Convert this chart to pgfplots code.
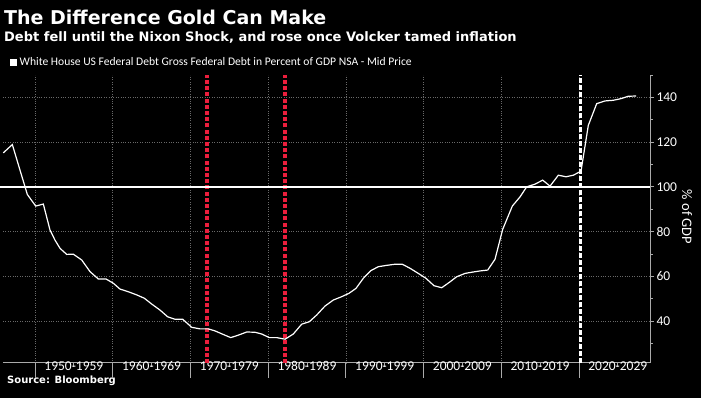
\documentclass[border=0pt]{standalone}
\usepackage{fontspec}
\setmainfont{Carlito}
\newfontfamily\dvs{DejaVu Sans}
\usepackage{pgfplots}
\pgfplotsset{compat=1.18}
\definecolor{nixred}{RGB}{235,30,60}
\definecolor{gridc}{RGB}{105,105,105}
\definecolor{axc}{RGB}{170,170,170}
\begin{document}
\begin{tikzpicture}
\fill[black] (0pt,0pt) rectangle (701pt,398pt);
\useasboundingbox (0pt,0pt) rectangle (701pt,398pt);
\node[anchor=base west, inner sep=0pt, text=white, font=\dvs\bfseries\fontsize{19}{22}\selectfont] at (4pt,373pt) {The Difference Gold Can Make};
\node[anchor=base west, inner sep=0pt, text=white, font=\dvs\bfseries\fontsize{13}{15}\selectfont] at (4pt,356.5pt) {Debt fell until the Nixon Shock, and rose once Volcker tamed inflation};
\fill[white] (10pt,332pt) rectangle (17pt,339pt);
\node[anchor=base west, inner sep=0pt, text=white, font=\fontsize{11.6}{13}\selectfont] at (19.5pt,332pt) {White House US Federal Debt Gross Federal Debt in Percent of GDP NSA - Mid Price};
\node[anchor=base west, inner sep=0pt, text=white, font=\dvs\bfseries\fontsize{10}{12}\selectfont] at (7pt,14pt) {Source: Bloomberg};
\node[rotate=-90, inner sep=0pt, text=white, font=\fontsize{14.5}{16}\selectfont] at (687pt,181pt) {\% of GDP};
\begin{axis}[
  at={(3pt,35pt)}, anchor=south west,
  scale only axis, width=647pt, height=288pt,
  xmin=1945.88, xmax=2029.15, ymin=21.25, ymax=150,
  axis x line*=bottom, axis y line*=right,
  x axis line style={axc, line width=1pt, -},
  y axis line style={axc, line width=0.8pt, -},
  xtick={1955,1965,...,2025},
  xticklabels={1950-1959,1960-1969,1970-1979,1980-1989,1990-1999,2000-2009,2010-2019,2020-2029},
  ytick={40,60,...,140},
  minor ytick={30,50,...,150},
  tick align=outside,
  major tick length=4pt, minor tick length=2.5pt,
  tick style={axc, line width=0.8pt},
  minor tick style={axc, line width=0.8pt},
  ymajorgrids,
  major grid style={gridc, dotted, line width=0.6pt},
  extra x ticks={1950,1960,...,2020},
  extra x tick labels={},
  extra x tick style={grid=major, major tick length=15pt, tick style={axc, line width=0.8pt}},
  ticklabel style={text=white, font=\fontsize{13.5}{15}\selectfont},
  /pgf/number format/assume math mode=true,
  yticklabel style={anchor=west, xshift=-1pt},
  xticklabel style={yshift=9pt},
  clip=false,
]
\draw[nixred, line width=3.2pt, dash pattern=on 4pt off 2.2pt] (axis cs:1972.14,21.25) -- (axis cs:1972.14,150);
\draw[nixred, line width=3.2pt, dash pattern=on 4pt off 2.2pt] (axis cs:1982.17,21.25) -- (axis cs:1982.17,150);
\draw[white, line width=2.2pt] (axis cs:1945.5,100) -- (axis cs:2029.15,100);
\draw[white, line width=3pt, dash pattern=on 5pt off 2pt] (axis cs:2020.2,21.25) -- (axis cs:2020.2,150);
\addplot[white, line width=1.2pt] coordinates {
(1945.92,115.2)(1947.08,118.9)(1949.01,96.6)(1950.09,91.4)(1951.07,92.3)(1951.93,80.7)
(1952.57,76.2)(1953.22,72.5)(1954.08,69.8)(1954.93,69.9)(1956.01,67.3)(1957.08,62.1)
(1958.15,58.8)(1959.14,58.8)(1960.08,56.9)(1960.94,54.3)(1962.01,53.1)(1963.09,51.7)
(1964.07,50.2)(1965.02,47.6)(1966.09,44.9)(1967.08,41.9)(1968.02,40.8)(1969.01,40.8)
(1970.17,37.2)(1971.24,36.5)(1972.30,36.5)(1973.17,35.6)(1974.16,34.1)(1975.19,32.6)
(1976.16,33.7)(1977.25,35.1)(1978.31,35.0)(1979.18,34.2)(1980.15,32.6)(1981.11,32.6)
(1982.18,31.9)(1983.24,34.2)(1984.32,38.6)(1985.30,39.7)(1986.25,42.7)(1987.32,46.7)
(1988.39,49.4)(1989.47,50.9)(1990.41,52.4)(1991.31,54.6)(1992.25,59.1)(1993.20,62.5)
(1994.18,64.3)(1995.26,64.9)(1996.33,65.4)(1997.27,65.4)(1998.26,63.6)(1999.33,61.3)
(2000.32,59.1)(2001.35,55.8)(2002.34,54.9)(2003.32,57.3)(2004.27,59.8)(2005.34,61.3)
(2006.33,61.9)(2007.27,62.4)(2008.26,62.8)(2009.20,67.6)(2010.19,81.0)(2011.43,91.4)
(2012.42,95.5)(2013.28,100.0)(2014.35,101.2)(2015.34,103.0)(2016.28,100.3)(2017.35,105.2)
(2018.34,104.5)(2019.28,105.2)(2020.27,107.0)(2021.21,127.5)(2022.29,137.2)(2023.36,138.4)
(2024.43,138.7)(2025.38,139.4)(2026.36,140.5)(2027.35,140.6)
};
\end{axis}
\end{tikzpicture}
\end{document}
